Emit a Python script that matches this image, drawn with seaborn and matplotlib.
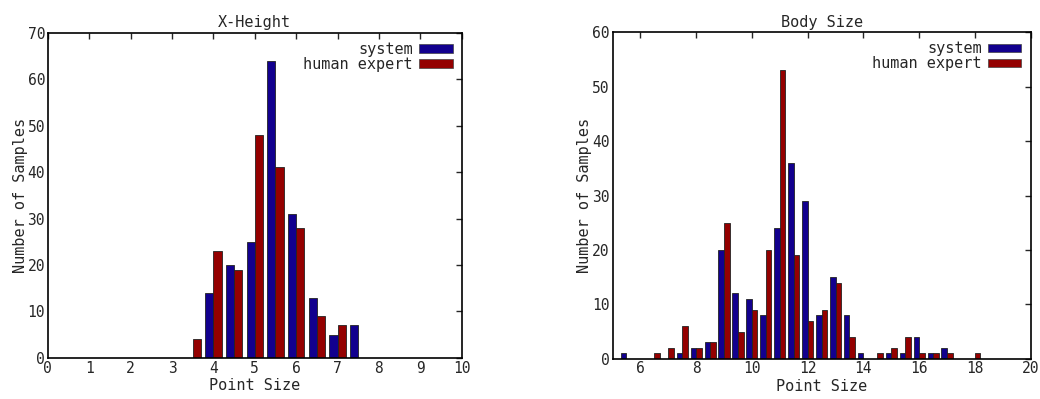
import seaborn as sns
import matplotlib.pyplot as plt
import matplotlib.patches as mpatches
import pandas as pd

# ---- data ----
xh_bins = [3.5, 4.0, 4.5, 5.0, 5.5, 6.0, 6.5, 7.0, 7.5]
xh_system = [0, 14, 20, 25, 64, 31, 13, 5, 7]
xh_human = [4, 23, 19, 48, 41, 28, 9, 7, 0]

bs_bins = [5.5, 6.0, 6.5, 7.0, 7.5, 8.0, 8.5, 9.0, 9.5, 10.0, 10.5, 11.0, 11.5, 12.0,
           12.5, 13.0, 13.5, 14.0, 14.5, 15.0, 15.5, 16.0, 16.5, 17.0, 17.5, 18.0]
bs_system = [1, 0, 0, 0, 1, 2, 3, 20, 12, 11, 8, 24, 36, 29,
             8, 15, 8, 1, 0, 1, 1, 4, 1, 2, 0, 0]
bs_human = [0, 0, 1, 2, 6, 2, 3, 25, 5, 9, 20, 53, 19, 7,
            9, 14, 4, 0, 1, 2, 4, 1, 1, 1, 0, 1]

series = ['system', 'human expert']
colors = {'system': '#12008e', 'human expert': '#940000'}

def to_long(bins, sys_vals, hum_vals):
    rows = []
    for b, s, h in zip(bins, sys_vals, hum_vals):
        rows.append({'size': b, 'who': 'system', 'n': s})
        rows.append({'size': b, 'who': 'human expert', 'n': h})
    return pd.DataFrame(rows)

sns.set_style('white')
plt.rcParams['font.family'] = ['DejaVu Sans Mono']
plt.rcParams['font.size'] = 11

fig = plt.figure(figsize=(10.4, 3.99), dpi=100)
ax1 = fig.add_axes([0.046, 0.103, 0.398, 0.815])
ax2 = fig.add_axes([0.589, 0.101, 0.402, 0.818])

panels = [
    (ax1, to_long(xh_bins, xh_system, xh_human), 'X-Height', (0, 10), range(0, 11), (0, 70), range(0, 71, 10)),
    (ax2, to_long(bs_bins, bs_system, bs_human), 'Body Size', (5, 20), range(6, 21, 2), (0, 60), range(0, 61, 10)),
]

for ax, df, title, xlim, xt, ylim, yt in panels:
    sns.barplot(data=df, x='size', y='n', hue='who', hue_order=series, palette=colors,
                native_scale=True, width=0.8, saturation=1, edgecolor='#222222', linewidth=0.6,
                errorbar=None, legend=False, ax=ax)
    ax.set_xlim(*xlim)
    ax.set_ylim(*ylim)
    ax.set_xticks(list(xt))
    ax.set_yticks(list(yt))
    ax.tick_params(direction='in', top=True, right=True, length=4, width=1, pad=2,
                   labelsize=10.5)
    for sp in ax.spines.values():
        sp.set_linewidth(1.2)
        sp.set_color('black')
    ax.set_title(title, fontsize=11, pad=4)
    ax.set_xlabel('Point Size', labelpad=2)
    ax.set_ylabel('Number of Samples', labelpad=0)
    handles = [mpatches.Patch(facecolor=colors[s], edgecolor='#444444', linewidth=0.5) for s in series]
    ax.legend(handles, series, loc='upper right', frameon=False, markerfirst=False,
              handlelength=2.2, handleheight=0.5, labelspacing=0.0, borderaxespad=0.2,
              handletextpad=0.4, alignment='right', fontsize=11)

plt.savefig('out.png', dpi=100)
